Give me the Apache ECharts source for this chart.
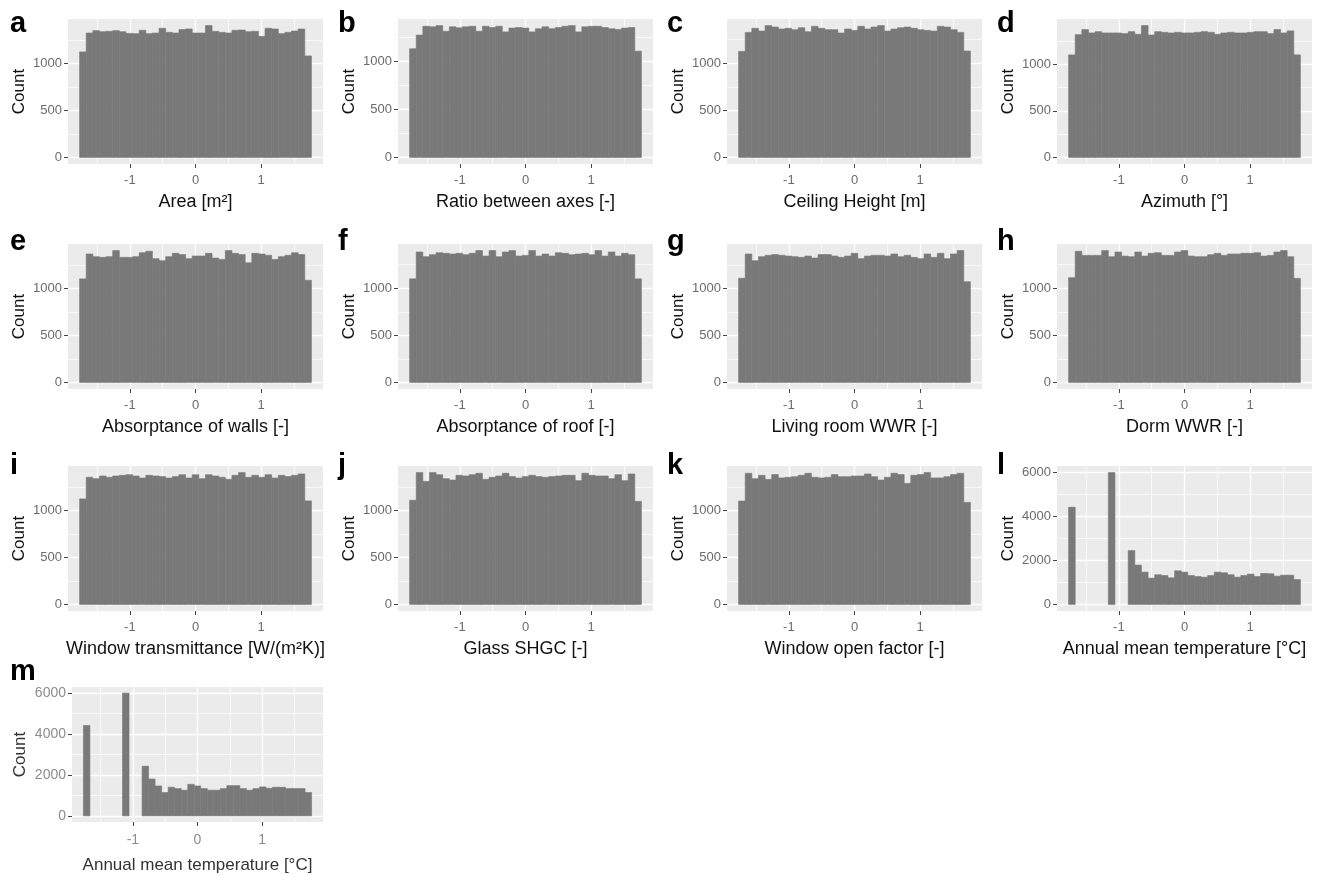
<!DOCTYPE html>
<html><head><meta charset="utf-8">
<script src="https://cdn.jsdelivr.net/npm/echarts@6/dist/echarts.min.js"></script>
<style>html,body{margin:0;padding:0;background:#fff}#chart{width:1322px;height:875px}</style>
</head><body><div id="chart"></div>
<script>
// ---------- data ----------
const panelLetters = ['a','b','c','d','e','f','g','h','i','j','k','l','m'];
const axisTitles = [
  'Area [m²]', 'Ratio between axes [-]', 'Ceiling Height [m]', 'Azimuth [°]',
  'Absorptance of walls [-]', 'Absorptance of roof [-]', 'Living room WWR [-]', 'Dorm WWR [-]',
  'Window transmittance [W/(m²K)]', 'Glass SHGC [-]', 'Window open factor [-]',
  'Annual mean temperature [°C]', 'Annual mean temperature [°C]'
];
const binRange = [-1.765, 1.765];   // histogram extent (standardized units)
const binCount = 35;

const countsA = [1126,1328,1353,1342,1346,1353,1342,1324,1321,1357,1321,1328,1378,1335,1328,1364,1371,1328,1328,1407,1346,1335,1328,1357,1360,1342,1346,1292,1378,1371,1321,1335,1349,1371,1083];
const countsB = [1135,1278,1370,1364,1377,1318,1364,1354,1364,1370,1318,1370,1357,1370,1311,1351,1357,1351,1311,1344,1364,1344,1357,1370,1377,1311,1364,1370,1370,1357,1344,1337,1351,1357,1110];
const countsC = [1126,1328,1371,1342,1400,1385,1364,1371,1357,1378,1335,1393,1371,1357,1357,1321,1364,1349,1393,1364,1385,1400,1342,1364,1378,1385,1371,1357,1349,1342,1393,1385,1357,1328,1130];
const countsD = [1100,1317,1371,1335,1349,1335,1335,1335,1328,1349,1321,1414,1313,1349,1342,1335,1342,1335,1335,1342,1349,1342,1321,1335,1342,1335,1335,1342,1349,1349,1328,1371,1335,1357,1100];
const countsE = [1105,1371,1342,1335,1342,1407,1335,1335,1342,1385,1400,1321,1299,1342,1378,1364,1321,1349,1349,1378,1328,1313,1407,1378,1364,1277,1378,1371,1357,1313,1342,1357,1385,1364,1090];
const countsF = [1100,1385,1335,1357,1378,1371,1364,1371,1357,1371,1400,1342,1400,1335,1385,1400,1342,1349,1400,1342,1364,1342,1378,1371,1357,1364,1371,1357,1400,1342,1385,1342,1371,1357,1100];
const countsG = [1112,1371,1299,1342,1357,1364,1357,1349,1342,1335,1349,1328,1364,1364,1349,1335,1349,1378,1321,1349,1357,1357,1349,1371,1342,1357,1335,1321,1371,1335,1378,1321,1371,1407,1075];
const countsH = [1112,1393,1349,1349,1349,1400,1335,1385,1342,1335,1385,1342,1371,1378,1349,1349,1385,1400,1342,1335,1335,1357,1371,1349,1364,1364,1371,1371,1378,1342,1349,1385,1400,1335,1105];
const countsI = [1126,1357,1342,1371,1357,1371,1378,1385,1371,1349,1378,1371,1364,1349,1364,1385,1349,1385,1342,1385,1371,1357,1335,1378,1407,1357,1378,1357,1385,1349,1378,1364,1378,1393,1105];
const countsJ = [1112,1407,1313,1407,1385,1342,1328,1378,1371,1385,1400,1335,1357,1371,1400,1364,1349,1364,1378,1364,1357,1364,1371,1378,1378,1321,1400,1378,1371,1371,1342,1385,1321,1393,1100];
const countsK = [1101,1397,1339,1375,1332,1383,1347,1354,1361,1375,1397,1354,1347,1354,1383,1361,1361,1368,1368,1390,1361,1325,1354,1397,1383,1289,1375,1383,1404,1347,1347,1361,1383,1397,1087];
const countsL = [4425,0,0,0,0,0,6000,0,0,2450,1790,1470,1195,1350,1317,1210,1530,1470,1317,1270,1240,1317,1470,1440,1350,1240,1317,1380,1270,1410,1395,1286,1330,1330,1133];
const countsM = [4420,0,0,0,0,0,6000,0,0,2430,1800,1463,1141,1400,1334,1254,1543,1463,1334,1254,1254,1334,1479,1479,1334,1254,1334,1415,1350,1400,1400,1334,1334,1334,1141];

const xTickLabels = [-1, 0, 1];
const xMinorBreaks = [-1.5, -0.5, 0.5, 1.5];
const yTicksUniform = [0, 500, 1000];
const yMinorUniform = [250, 750, 1250];
const yTicksTemp = [0, 2000, 4000, 6000];
const yMinorTemp = [1000, 3000, 5000];

const allCounts = [countsA,countsB,countsC,countsD,countsE,countsF,countsG,countsH,countsI,countsJ,countsK,countsL,countsM];

// ---------- layout / style ----------
const FONT = "'Liberation Sans', Arial, sans-serif";
const BAR = '#797979';
const colLeft = [68, 398, 727, 1057];
const rowTop = [19, 244, 466];
const letterBase = [34, 252, 476];
const letterLeft = [10, 338, 667, 997];

function panelBox(k) {
  if (k === 12) return {left: 72, top: 687, width: 251, height: 137};
  const r = Math.floor(k / 4), c = k % 4;
  return {left: colLeft[c], top: rowTop[r], width: 255, height: 145};
}
function letterPos(k) {
  if (k === 12) return {left: 10, base: 682};
  const r = Math.floor(k / 4), c = k % 4;
  return {left: letterLeft[c], base: letterBase[r]};
}

const edges = [];
for (let i = 0; i <= binCount; i++) edges.push(binRange[0] + (binRange[1] - binRange[0]) * i / binCount);
const xPad = (binRange[1] - binRange[0]) * 0.05;

const grid = [], xAxis = [], yAxis = [], series = [], title = [];
allCounts.forEach((counts, k) => {
  const isTemp = k >= 11;
  const isM = k === 12;
  const yT = isTemp ? yTicksTemp : yTicksUniform;
  const yMi = isTemp ? yMinorTemp : yMinorUniform;
  const maxC = Math.max(...counts);
  const labelColor = isM ? '#8c8c8c' : '#6b6b6b';
  const tickFont = isM ? 14 : 13;
  const b = panelBox(k);
  grid.push({left: b.left, top: b.top, width: b.width, height: b.height, show: true,
    backgroundColor: '#EBEBEB', borderWidth: 0, containLabel: false});
  const lp = letterPos(k);
  title.push({text: panelLetters[k], left: lp.left, top: lp.base - 25, padding: 0,
    textStyle: {fontSize: 29, fontWeight: 'bold', color: '#000', fontFamily: FONT}});
  const xCommon = {type: 'value', gridIndex: k, min: binRange[0] - xPad, max: binRange[1] + xPad,
    axisLine: {show: false, onZero: false}};
  xAxis.push(Object.assign({}, xCommon, {
    position: 'bottom',
    name: axisTitles[k], nameLocation: 'middle', nameGap: isM ? 35 : 29,
    nameTextStyle: {fontSize: isM ? 17 : 18, color: isM ? '#333' : '#111', fontFamily: FONT},
    axisTick: {show: true, customValues: xTickLabels, length: 4, lineStyle: {color: '#444', width: 1}},
    axisLabel: {show: true, customValues: xTickLabels, fontSize: tickFont, color: labelColor,
      margin: isM ? 11 : 10, fontFamily: FONT, formatter: v => String(v)},
    splitLine: {show: true, lineStyle: {color: '#ffffff', width: 1.3}}
  }));
  xAxis.push(Object.assign({}, xCommon, {
    position: 'top',
    axisTick: {show: false, customValues: xMinorBreaks},
    axisLabel: {show: false},
    splitLine: {show: true, lineStyle: {color: '#ffffff', width: 0.7}}
  }));
  const yCommon = {type: 'value', gridIndex: k, min: -0.05 * maxC, max: 1.05 * maxC,
    axisLine: {show: false, onZero: false}};
  yAxis.push(Object.assign({}, yCommon, {
    position: 'left',
    name: 'Count', nameLocation: 'middle', nameGap: isM ? 43 : 40, nameRotate: 90,
    nameTextStyle: {fontSize: 17, color: isM ? '#333' : '#111', fontFamily: FONT},
    axisTick: {show: true, customValues: yT, length: 4, lineStyle: {color: '#444', width: 1}},
    axisLabel: {show: true, customValues: yT, fontSize: tickFont, color: labelColor, margin: 6, fontFamily: FONT,
      formatter: v => String(v)},
    splitLine: {show: true, lineStyle: {color: '#ffffff', width: 1.3}}
  }));
  yAxis.push(Object.assign({}, yCommon, {
    position: 'right',
    axisTick: {show: false, customValues: yMi},
    axisLabel: {show: false},
    splitLine: {show: true, lineStyle: {color: '#ffffff', width: 0.7}}
  }));
  series.push({
    type: 'custom', xAxisIndex: 2 * k, yAxisIndex: 2 * k, silent: true, z: 3,
    data: counts.map((c, i) => [edges[i], edges[i + 1], c]),
    encode: {x: [0, 1], y: 2},
    renderItem: (params, api) => {
      const v = api.value(2);
      if (!v) return null;
      const p0 = api.coord([api.value(0), v]);
      const p1 = api.coord([api.value(1), 0]);
      return {type: 'rect', shape: {x: p0[0], y: p0[1], width: p1[0] - p0[0], height: p1[1] - p0[1]},
        style: {fill: BAR, stroke: BAR, lineWidth: 0.6}};
    }
  });
});

const chart = echarts.init(document.getElementById('chart'), null, {renderer: 'canvas'});
chart.setOption({
  animation: false,
  backgroundColor: '#ffffff',
  textStyle: {fontFamily: FONT},
  title, grid, xAxis, yAxis, series
});
</script></body></html>
